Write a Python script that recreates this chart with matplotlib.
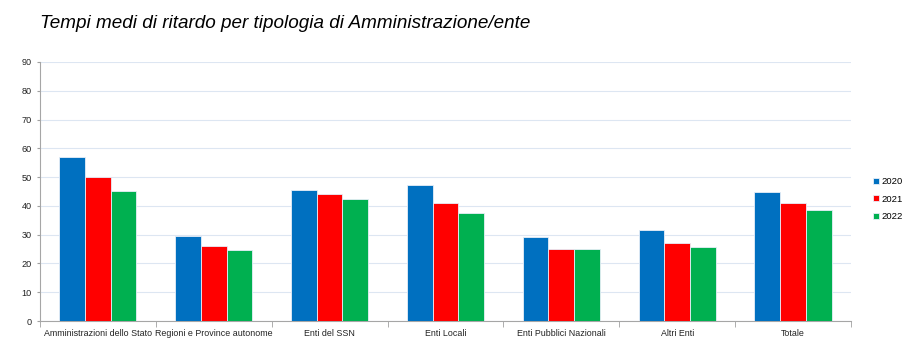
import matplotlib.pyplot as plt
import numpy as np

categorie = ['Amministrazioni dello Stato', 'Regioni e Province autonome', 'Enti del SSN',
             'Enti Locali', 'Enti Pubblici Nazionali', 'Altri Enti', 'Totale']
anni = ['2020', '2021', '2022']
v2020 = [57.1, 29.6, 45.5, 47.1, 29.2, 31.5, 44.7]
v2021 = [50.0, 25.9, 44.0, 40.9, 24.9, 27.0, 41.1]
v2022 = [45.2, 24.6, 42.3, 37.5, 24.9, 25.6, 38.5]
colori = ['#0070C0', '#FF0000', '#00B050']

plt.rcParams['font.family'] = ['Liberation Sans Narrow', 'Liberation Sans', 'DejaVu Sans']

fig = plt.figure(figsize=(9.15, 3.54), dpi=100)
ax = fig.add_axes([0.0437, 0.0932, 0.8863, 0.7318])

x = np.arange(len(categorie))
w = 0.222
for i, (vals, c, lab) in enumerate(zip([v2020, v2021, v2022], colori, anni)):
    ax.bar(x + (i - 1) * w, vals, w, color=c, label=lab, edgecolor='#e8eef8',
           linewidth=0.6, zorder=3)

ax.set_xlim(-0.5, len(categorie) - 0.5)
ax.set_ylim(0, 90)
ax.set_yticks(np.arange(0, 91, 10))
ax.set_xticks(x)
ax.set_xticklabels(categorie)
ax.set_xticks(np.arange(-0.5, len(categorie), 1), minor=True)
ax.tick_params(axis='x', which='major', length=0, labelsize=6.4, colors='#222222', pad=6)
ax.tick_params(axis='x', which='minor', length=4, color='#a0a0a0')
ax.tick_params(axis='y', length=2.5, color='#a0a0a0', labelsize=6.6, labelcolor='#222222', pad=3.5)
ax.yaxis.grid(True, color='#dde6f2', linewidth=0.8, zorder=0)
for s in ['top', 'right']:
    ax.spines[s].set_visible(False)
for s in ['left', 'bottom']:
    ax.spines[s].set_color('#a6a6a6')
    ax.spines[s].set_linewidth(0.8)

ax.legend(loc='center left', bbox_to_anchor=(1.017, 0.47), frameon=False,
          fontsize=6.8, handlelength=0.6, handleheight=0.6, handletextpad=0.3,
          labelspacing=0.9)

fig.text(0.0437, 0.935, 'Tempi medi di ritardo per tipologia di Amministrazione/ente',
         fontsize=13.6, style='italic', family='Liberation Sans', va='center', ha='left')

fig.savefig('out.png', dpi=100)
